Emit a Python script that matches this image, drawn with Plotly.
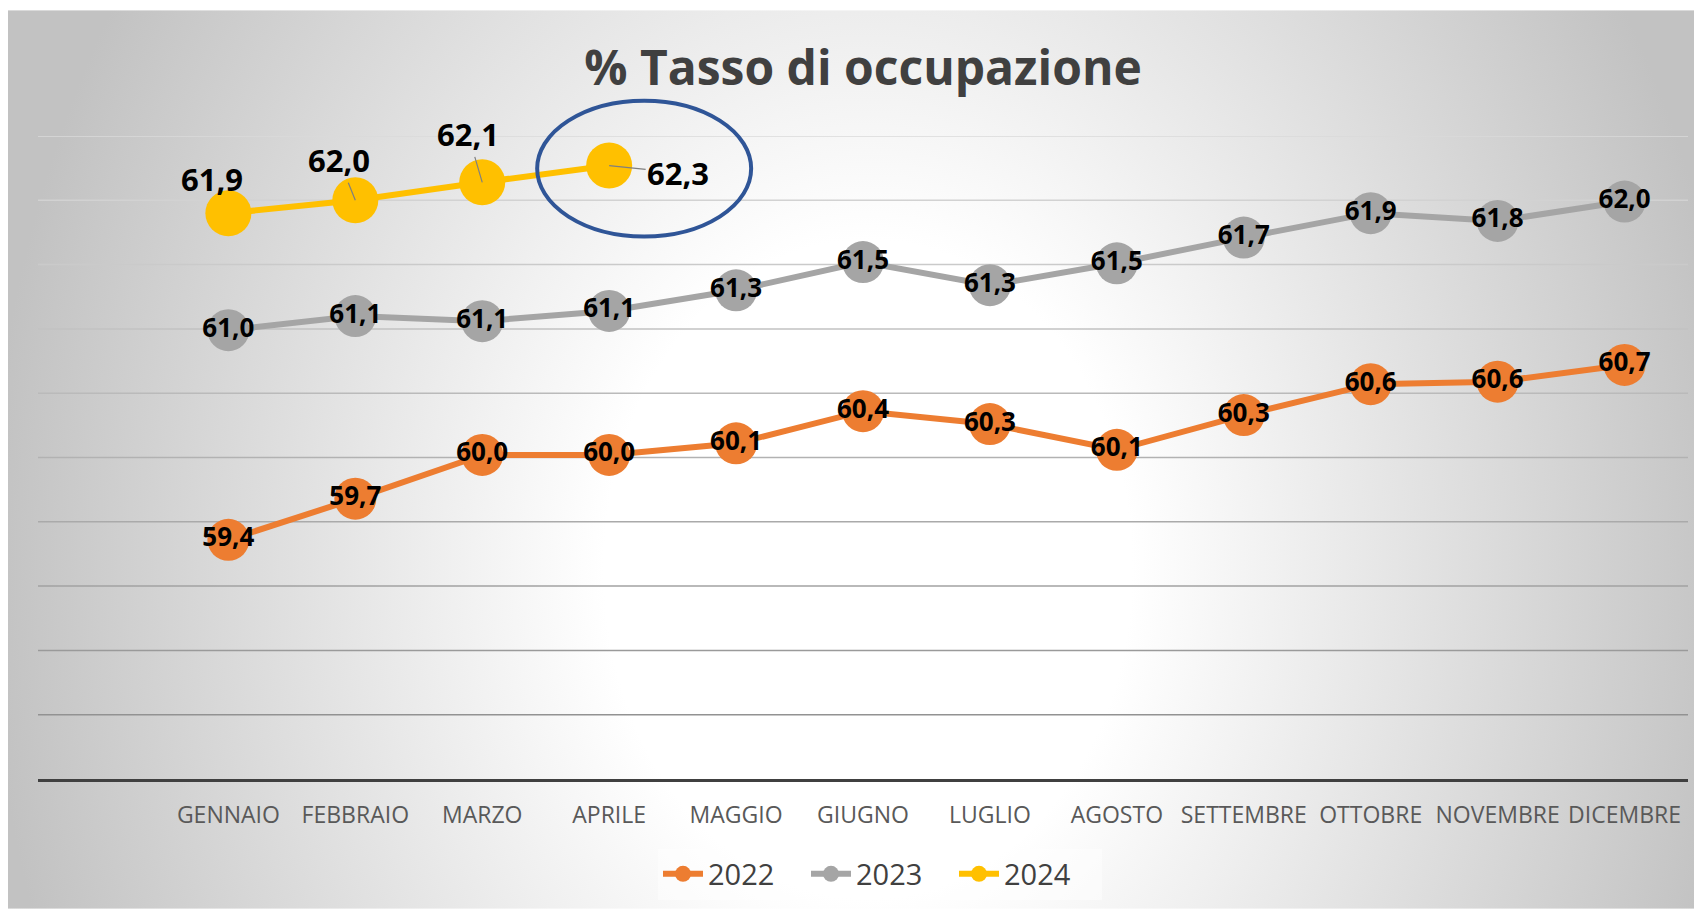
import base64
import plotly.graph_objects as go

# dati (tasso di occupazione %)
mesi = ["GENNAIO", "FEBBRAIO", "MARZO", "APRILE", "MAGGIO", "GIUGNO",
        "LUGLIO", "AGOSTO", "SETTEMBRE", "OTTOBRE", "NOVEMBRE", "DICEMBRE"]
tasso_2022 = [59.36, 59.68, 60.02, 60.02, 60.11, 60.36, 60.26, 60.06, 60.33, 60.57, 60.59, 60.72]
tasso_2023 = [60.99, 61.10, 61.06, 61.14, 61.30, 61.52, 61.34, 61.51, 61.71, 61.90, 61.84, 61.99]
tasso_2024 = [61.90, 62.00, 62.14, 62.27]

# stile (la pagina html ha un margine di 8px sul body)
W, H = 1694, 902
M_L, M_R, M_T, M_B = 30, 14, 128, 130
Y_MIN, Y_MAX = 57.5, 62.5
X_MIN, X_MAX = -1.5, 11.5
FONT = "Open Sans"
colori = {"2022": "#ED7D31", "2023": "#A5A5A5", "2024": "#FFC000"}
# offset (px) delle etichette 2024 rispetto al punto, e linea guida si/no
label_off_2024 = [(-16, -34), (-16, -40), (-14, -48), (69, 7)]
leader_2024 = [False, True, True, True]

plot_w = W - M_L - M_R
plot_h = H - M_T - M_B

fig = go.Figure()

for anno, valori in [("2022", tasso_2022), ("2023", tasso_2023)]:
    fig.add_trace(go.Scatter(
        x=mesi[:len(valori)], y=valori, name=anno,
        mode="lines+markers+text",
        line=dict(color=colori[anno], width=6),
        marker=dict(color=colori[anno], size=42, line=dict(width=0)),
        texttemplate="%{y:.1f}", textposition="middle center",
        textfont=dict(family=FONT, size=26, color="#000000", weight="bold"),
        cliponaxis=False,
    ))

fig.add_trace(go.Scatter(
    x=mesi[:len(tasso_2024)], y=tasso_2024, name="2024",
    mode="lines+markers",
    line=dict(color=colori["2024"], width=6),
    marker=dict(color=colori["2024"], size=46, line=dict(width=0)),
    cliponaxis=False,
))

# etichette 2024 con linee guida
for i, v in enumerate(tasso_2024):
    dx, dy = label_off_2024[i]
    fig.add_annotation(
        x=mesi[i], y=v, ax=dx, ay=dy,
        text=f"{v:.1f}".replace(".", ","),
        showarrow=True, arrowhead=0, arrowwidth=1.2, standoff=0,
        arrowcolor="#7f7f7f" if leader_2024[i] else "rgba(0,0,0,0)",
        font=dict(family=FONT, size=31, color="#000000", weight="bold"),
    )

# griglia orizzontale (piu' chiara in alto, piu' scura in basso)
grid_vals = [Y_MIN + 0.5 * k for k in range(1, int((Y_MAX - Y_MIN) / 0.5) + 1)]
for g in grid_vals:
    t = (Y_MAX - g) / (Y_MAX - Y_MIN)
    c = int(218 - t * 80)
    fig.add_shape(type="line", xref="paper", yref="y", x0=0, x1=1, y0=g, y1=g,
                  line=dict(color=f"rgb({c},{c},{c})", width=1.5), layer="below")

# ellisse attorno al dato di aprile 2024
i_apr = len(tasso_2024) - 1
cx = (i_apr - X_MIN) / (X_MAX - X_MIN) + 35 / plot_w
cy = (tasso_2024[i_apr] - Y_MIN) / (Y_MAX - Y_MIN) - 3 / plot_h
rx, ry = 107 / plot_w, 68 / plot_h
fig.add_shape(type="circle", xref="x domain", yref="y domain",
              x0=cx - rx, x1=cx + rx, y0=cy - ry, y1=cy + ry,
              line=dict(color="#2F5597", width=4))

# sfondo con gradiente radiale
bw, bh = W, H - 2
svg = (f'<svg xmlns="http://www.w3.org/2000/svg" width="{bw}" height="{bh}" '
       f'viewBox="0 0 {bw} {bh}" preserveAspectRatio="none">'
       f'<defs><radialGradient id="g" gradientUnits="userSpaceOnUse" cx="860" cy="560" r="880" '
       f'gradientTransform="translate(860 560) scale(1 1.25) translate(-860 -560)">'
       f'<stop offset="0" stop-color="#ffffff"/><stop offset="0.3" stop-color="#ffffff"/>'
       f'<stop offset="1" stop-color="#c2c2c2"/></radialGradient></defs>'
       f'<rect width="{bw}" height="{bh}" fill="url(#g)"/></svg>')
src = "data:image/svg+xml;base64," + base64.b64encode(svg.encode()).decode()
fig.add_layout_image(dict(
    source=src, xref="paper", yref="paper",
    x=-M_L / plot_w, y=1 + (M_T - 2) / plot_h,
    sizex=bw / plot_w, sizey=bh / plot_h,
    xanchor="left", yanchor="top", sizing="stretch", layer="below",
))

fig.update_layout(
    width=W, height=H,
    margin=dict(l=M_L, r=M_R, t=M_T, b=M_B),
    paper_bgcolor="#ffffff", plot_bgcolor="rgba(0,0,0,0)",
    separators=",.",
    title=dict(text="<b>% Tasso di occupazione</b>", x=0.5, xref="paper",
               y=1 - 60 / H, yanchor="middle",
               font=dict(family=FONT, size=48, color="#404040")),
    showlegend=True,
    legend=dict(orientation="h", x=(872 - M_L) / plot_w, xanchor="center",
                y=(H - M_B - 866) / plot_h, yanchor="middle",
                bgcolor="rgba(255,255,255,0.45)",
                font=dict(family=FONT, size=29, color="#404040"),
                itemwidth=40, entrywidth=93, entrywidthmode="pixels"),
    xaxis=dict(type="category", range=[X_MIN, X_MAX], showgrid=False,
               showline=True, linecolor="#404040", linewidth=3,
               ticks="", ticklabelstandoff=13,
               tickfont=dict(family=FONT, size=23, color="#595959")),
    yaxis=dict(range=[Y_MIN, Y_MAX], showgrid=False, zeroline=False,
               showticklabels=False),
)

fig.write_html("out.html")
